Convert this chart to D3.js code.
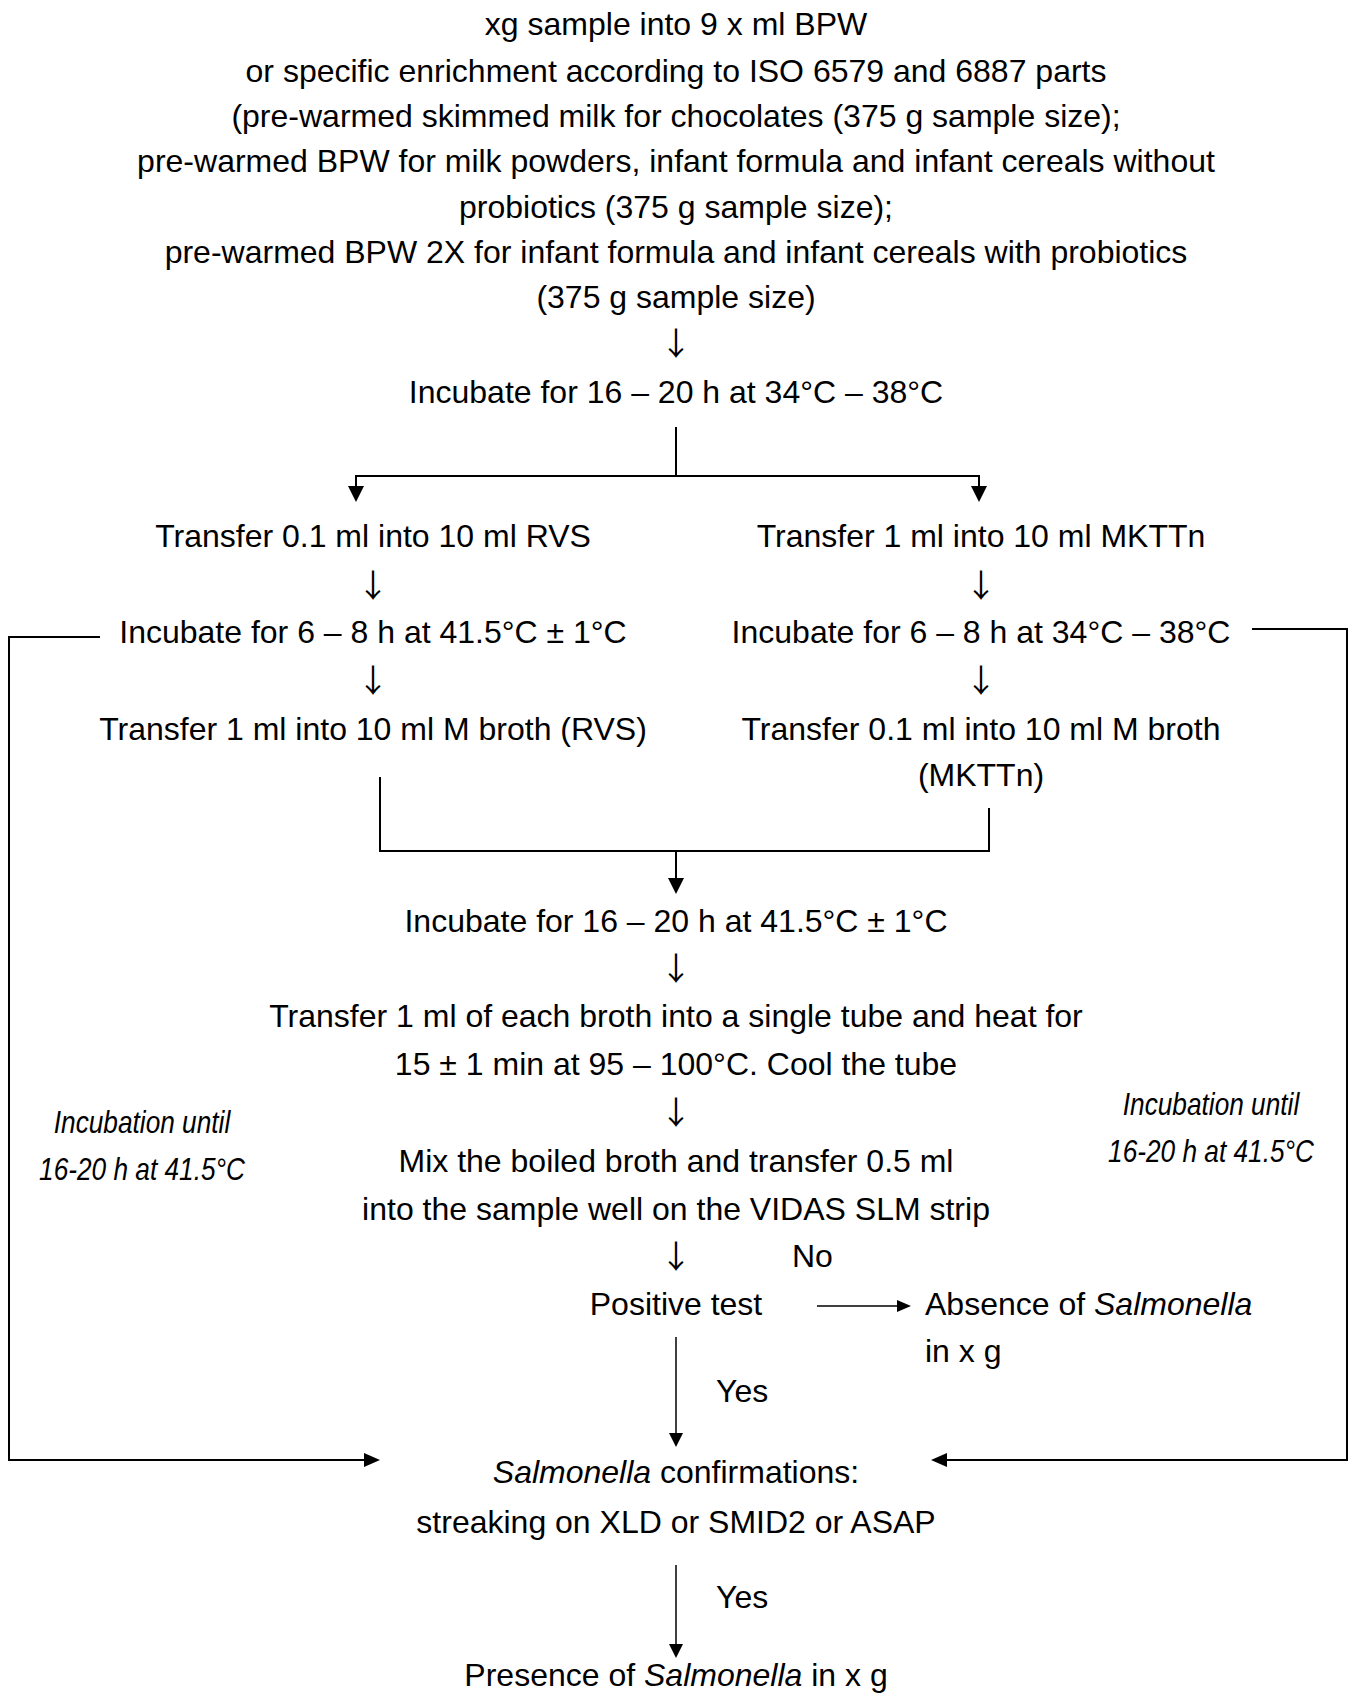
<!DOCTYPE html>
<html>
<head>
<meta charset="utf-8">
<script src="https://cdn.jsdelivr.net/npm/d3@7"></script>
<style>
  body { margin: 0; background: #fff; }
  svg { display: block; }
</style>
</head>
<body>
<script>
// text of the flow chart, row by row
var introLines = [
  "xg sample into 9 x ml BPW",
  "or specific enrichment according to ISO 6579 and 6887 parts",
  "(pre-warmed skimmed milk for chocolates (375 g sample size);",
  "pre-warmed BPW for milk powders, infant formula and infant cereals without",
  "probiotics (375 g sample size);",
  "pre-warmed BPW 2X for infant formula and infant cereals with probiotics",
  "(375 g sample size)"
];
var preEnrich = "Incubate for 16 – 20 h at 34°C – 38°C";
var leftBranch = [
  "Transfer 0.1 ml into 10 ml RVS",
  "Incubate for 6 – 8 h at 41.5°C ± 1°C",
  "Transfer 1 ml into 10 ml M broth (RVS)"
];
var rightBranch = [
  "Transfer 1 ml into 10 ml MKTTn",
  "Incubate for 6 – 8 h at 34°C – 38°C",
  "Transfer 0.1 ml into 10 ml M broth",
  "(MKTTn)"
];
var midSteps = [
  "Incubate for 16 – 20 h at 41.5°C ± 1°C",
  "Transfer 1 ml of each broth into a single tube and heat for",
  "15 ± 1 min at 95 – 100°C. Cool the tube",
  "Mix the boiled broth and transfer 0.5 ml",
  "into the sample well on the VIDAS SLM strip"
];
var sideNote = ["Incubation until", "16-20 h at 41.5°C"];
var testLabel = "Positive test";
var noLabel = "No", yesLabel = "Yes";
var absence = [[["Absence of ", false], ["Salmonella", true]], [["in x g", false]]];
var confirm = [[["Salmonella", true], [" confirmations:", false]], [["streaking on XLD or SMID2 or ASAP", false]]];
var presence = [["Presence of ", false], ["Salmonella", true], [" in x g", false]];

var W = 1351, H = 1695;
var cx = 676, lx = 373, rx = 981;
var FONT = "'Liberation Sans', Arial, Helvetica, sans-serif";

var svg = d3.select("body").append("svg")
  .attr("width", W)
  .attr("height", H)
  .style("background", "#fff");

function write(x, y, content, opts) {
  opts = opts || {};
  var t = svg.append("text")
    .attr("x", x)
    .attr("y", y)
    .attr("font-family", opts.family || FONT)
    .attr("font-size", opts.size || 32)
    .attr("fill", "#000")
    .attr("text-anchor", opts.anchor || "middle");
  if (typeof content === "string") {
    t.text(content);
  } else {
    t.selectAll("tspan").data(content).enter().append("tspan")
      .attr("font-style", function(d) { return d[1] ? "italic" : "normal"; })
      .text(function(d) { return d[0]; });
  }
  return t;
}

// the down arrows between steps are a text glyph in the original
function downGlyph(x, y) {
  write(x, y, "↓", { family: "'Noto Sans CJK SC', 'DejaVu Sans', sans-serif", size: 32 });
}

function line(pts, w) {
  svg.append("path")
    .attr("d", d3.line()(pts))
    .attr("fill", "none")
    .attr("stroke", "#000")
    .attr("stroke-width", w || 2);
}

// filled arrow head with tip at (x,y)
function head(x, y, dir, len, half) {
  var p;
  if (dir == "down") p = [[x, y], [x - half, y - len], [x + half, y - len]];
  if (dir == "right") p = [[x, y], [x - len, y - half], [x - len, y + half]];
  if (dir == "left") p = [[x, y], [x + len, y - half], [x + len, y + half]];
  svg.append("path").attr("d", d3.line()(p) + "Z").attr("fill", "#000");
}

// intro block
var introY = [35, 82, 127, 172, 218, 263, 308];
introLines.forEach(function(s, i) { write(cx, introY[i], s); });
downGlyph(cx, 355);
write(cx, 403, preEnrich);

// split into two branches
line([[cx, 427], [cx, 476]]);
line([[lx - 17, 502 - 14], [lx - 17, 476], [rx - 2, 476], [rx - 2, 502 - 14]]);
head(lx - 17, 502, "down", 16, 8);
head(rx - 2, 502, "down", 16, 8);

var branchY = [547, 643, 740];
leftBranch.forEach(function(s, i) { write(lx, branchY[i], s); });
rightBranch.slice(0, 3).forEach(function(s, i) { write(rx, branchY[i], s); });
write(rx, 786, rightBranch[3]);
[597, 692].forEach(function(y) { downGlyph(lx, y); downGlyph(rx, y); });

// join branches
line([[380, 777], [380, 851], [989, 851], [989, 808]]);
line([[cx, 851], [cx, 880]]);
head(cx, 894, "down", 16, 8);

var midY = [932, 1027, 1075, 1172, 1220];
midSteps.forEach(function(s, i) { write(cx, midY[i], s); });
[980, 1124, 1268].forEach(function(y) { downGlyph(cx, y); });

// side notes (narrow italic)
function note(x, y0) {
  sideNote.forEach(function(s, i) {
    write(0, 0, s)
      .attr("font-style", "italic")
      .attr("transform", "translate(" + x + "," + (y0 + i * 47) + ") scale(0.82,1)");
  });
}
note(142, 1133);
note(1211, 1115);

// decision
write(792, 1267, noLabel, { anchor: "start" });
write(cx, 1315, testLabel);
line([[817, 1306], [898, 1306]], 1.5);
head(911, 1306, "right", 14, 6);
write(925, 1315, absence[0], { anchor: "start" });
write(925, 1362, absence[1], { anchor: "start" });

line([[cx, 1337], [cx, 1434]], 1.5);
head(cx, 1447, "down", 14, 7);
write(716, 1402, yesLabel, { anchor: "start" });

// feedback loops from the selective enrichments
line([[100, 637], [9, 637], [9, 1460], [365, 1460]]);
head(380, 1460, "right", 16, 7);
line([[1252, 629], [1347, 629], [1347, 1460], [946, 1460]]);
head(931, 1460, "left", 16, 7);

write(cx, 1483, confirm[0]);
write(cx, 1533, confirm[1]);

line([[cx, 1565], [cx, 1644]], 1.5);
head(cx, 1658, "down", 14, 7);
write(716, 1608, yesLabel, { anchor: "start" });
write(cx, 1686, presence);
</script>
</body>
</html>
